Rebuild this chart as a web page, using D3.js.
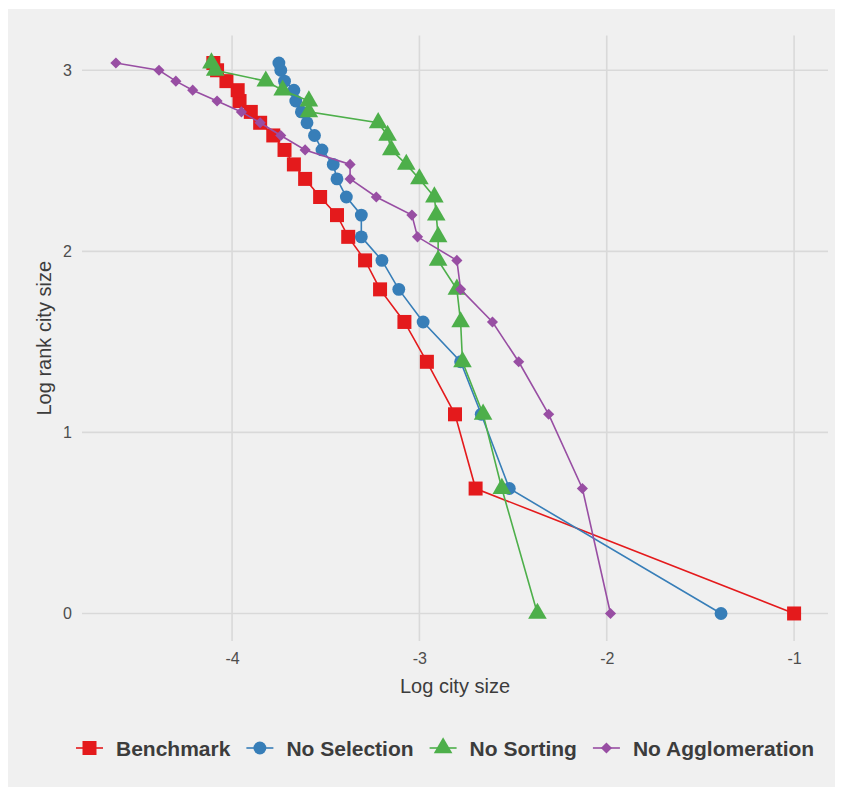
<!DOCTYPE html>
<html>
  <head>
    <meta charset="utf-8">
    <script src="https://cdnjs.cloudflare.com/ajax/libs/d3/7.8.5/d3.min.js"></script>
    <style>
      body {
        margin: 0;
        background: #ffffff;
      }
      text {
        font-family: "Liberation Sans", Arial, sans-serif;
      }
    </style>
  </head>
  <body>
    <div id="chart"></div>
    <script>
      // log rank (rank 1..21)
      const logRank = [0, 0.69, 1.1, 1.39, 1.61, 1.79, 1.95, 2.08, 2.2, 2.3, 2.4, 2.48, 2.56, 2.64, 2.71, 2.77, 2.83, 2.89, 2.94, 3.0, 3.04];

      // log city size per series, same rank order
      const benchmark = [-1.0, -2.7, -2.81, -2.96, -3.08, -3.21, -3.29, -3.38, -3.44, -3.53, -3.61, -3.67, -3.72, -3.78, -3.85, -3.9, -3.96, -3.97, -4.03, -4.08, -4.1];
      const noSelection = [-1.39, -2.52, -2.67, -2.78, -2.98, -3.11, -3.2, -3.31, -3.31, -3.39, -3.44, -3.46, -3.52, -3.56, -3.6, -3.63, -3.66, -3.67, -3.72, -3.74, -3.75];
      const noSorting = [-2.37, -2.56, -2.66, -2.77, -2.78, -2.8, -2.9, -2.9, -2.91, -2.92, -3.0, -3.07, -3.15, -3.17, -3.22, -3.59, -3.59, -3.73, -3.82, -4.09, -4.11];
      const noAgglom = [-1.98, -2.13, -2.31, -2.47, -2.61, -2.78, -2.8, -3.01, -3.04, -3.23, -3.37, -3.37, -3.61, -3.74, -3.85, -3.95, -4.08, -4.21, -4.3, -4.39, -4.62];

      const seriesNames = ["Benchmark", "No Selection", "No Sorting", "No Agglomeration"];
      const seriesColors = ["#e41a1c", "#377eb8", "#4daf4a", "#984ea3"];
      const seriesShapes = [d3.symbolSquare, d3.symbolCircle, d3.symbolTriangle, d3.symbolSquare];
      const shapeSizes = [196, 130, 150, 62];
      const shapeRotate = [0, 0, 0, 45];
      const xTicks = [-4, -3, -2, -1];
      const yTicks = [0, 1, 2, 3];

      const series = [benchmark, noSelection, noSorting, noAgglom].map((xs, i) => ({
        name: seriesNames[i],
        color: seriesColors[i],
        shape: seriesShapes[i],
        size: shapeSizes[i],
        rot: shapeRotate[i],
        points: xs.map((x, j) => ({ x: x, y: logRank[j] })),
      }));

      const W = 843, H = 795;
      const panel = { left: 82, right: 828, top: 35.5, bottom: 641 };

      const svg = d3.select("#chart").append("svg").attr("width", W).attr("height", H);

      // background
      svg.append("rect").attr("x", 8).attr("y", 9).attr("width", 827).attr("height", 778).attr("fill", "#f0f0f0");

      const allX = series.flatMap((s) => s.points.map((p) => p.x));
      const xMin = d3.min(allX), xMax = d3.max(allX);
      const xPad = (xMax - xMin) * 0.05;
      const yMin = d3.min(logRank), yMax = d3.max(logRank);
      const yPad = (yMax - yMin) * 0.05;

      const x = d3.scaleLinear().domain([xMin - xPad, xMax + xPad]).range([panel.left, panel.right]);
      const y = d3.scaleLinear().domain([yMin - yPad, yMax + yPad]).range([panel.bottom, panel.top]);

      // gridlines
      const grid = svg.append("g").attr("stroke", "#d9d9d9").attr("stroke-width", 1.6);
      grid.selectAll(".vx").data(xTicks).enter().append("line")
        .attr("x1", (d) => x(d)).attr("x2", (d) => x(d))
        .attr("y1", panel.top).attr("y2", panel.bottom);
      grid.selectAll(".hy").data(yTicks).enter().append("line")
        .attr("x1", panel.left).attr("x2", panel.right)
        .attr("y1", (d) => y(d)).attr("y2", (d) => y(d));

      // axes (labels only)
      const fmt = (d) => String(d);
      const xAxis = svg.append("g").attr("transform", `translate(0,${panel.bottom})`)
        .call(d3.axisBottom(x).tickValues(xTicks).tickFormat(fmt).tickSize(0).tickPadding(12));
      const yAxis = svg.append("g").attr("transform", `translate(${panel.left},0)`)
        .call(d3.axisLeft(y).tickValues(yTicks).tickFormat(fmt).tickSize(0).tickPadding(10));
      [xAxis, yAxis].forEach((a) => {
        a.select(".domain").remove();
        a.selectAll("text").attr("fill", "#4d4d4d").style("font-size", "16px")
          .style("font-family", '"Liberation Sans", Arial, sans-serif');
      });

      // axis titles
      svg.append("text").attr("x", (panel.left + panel.right) / 2).attr("y", 693)
        .attr("text-anchor", "middle").attr("fill", "#3c3c3c").style("font-size", "20px")
        .text("Log city size");
      svg.append("text").attr("transform", `translate(51,${(panel.top + panel.bottom) / 2}) rotate(-90)`)
        .attr("text-anchor", "middle").attr("fill", "#3c3c3c").style("font-size", "20px")
        .text("Log rank city size");

      // lines and points
      const line = d3.line().x((d) => x(d.x)).y((d) => y(d.y));
      const groups = svg.selectAll(".series").data(series).enter().append("g");
      groups.append("path")
        .attr("d", (d) => line(d.points))
        .attr("fill", "none")
        .attr("stroke", (d) => d.color)
        .attr("stroke-width", 1.6);
      groups.each(function (s) {
        d3.select(this).selectAll("path.pt").data(s.points).enter().append("path")
          .attr("class", "pt")
          .attr("transform", (d) => `translate(${x(d.x)},${y(d.y)}) rotate(${s.rot})`)
          .attr("d", d3.symbol().type(s.shape).size(s.size))
          .attr("fill", s.color);
      });

      // legend
      const legend = svg.append("g").attr("transform", "translate(0,748)");
      let lx = 76;
      series.forEach((s) => {
        const g = legend.append("g").attr("transform", `translate(${lx},0)`);
        g.append("line").attr("x1", 0).attr("x2", 27).attr("stroke", s.color).attr("stroke-width", 1.6);
        g.append("path").attr("transform", `translate(13.5,0) rotate(${s.rot})`)
          .attr("d", d3.symbol().type(s.shape).size(s.size)).attr("fill", s.color);
        const t = g.append("text").attr("x", 40).attr("y", 7.5)
          .attr("fill", "#3c3c3c").style("font-size", "21px").style("font-weight", "bold")
          .text(s.name);
        lx += 40 + t.node().getComputedTextLength() + 16;
      });
    </script>
  </body>
</html>
